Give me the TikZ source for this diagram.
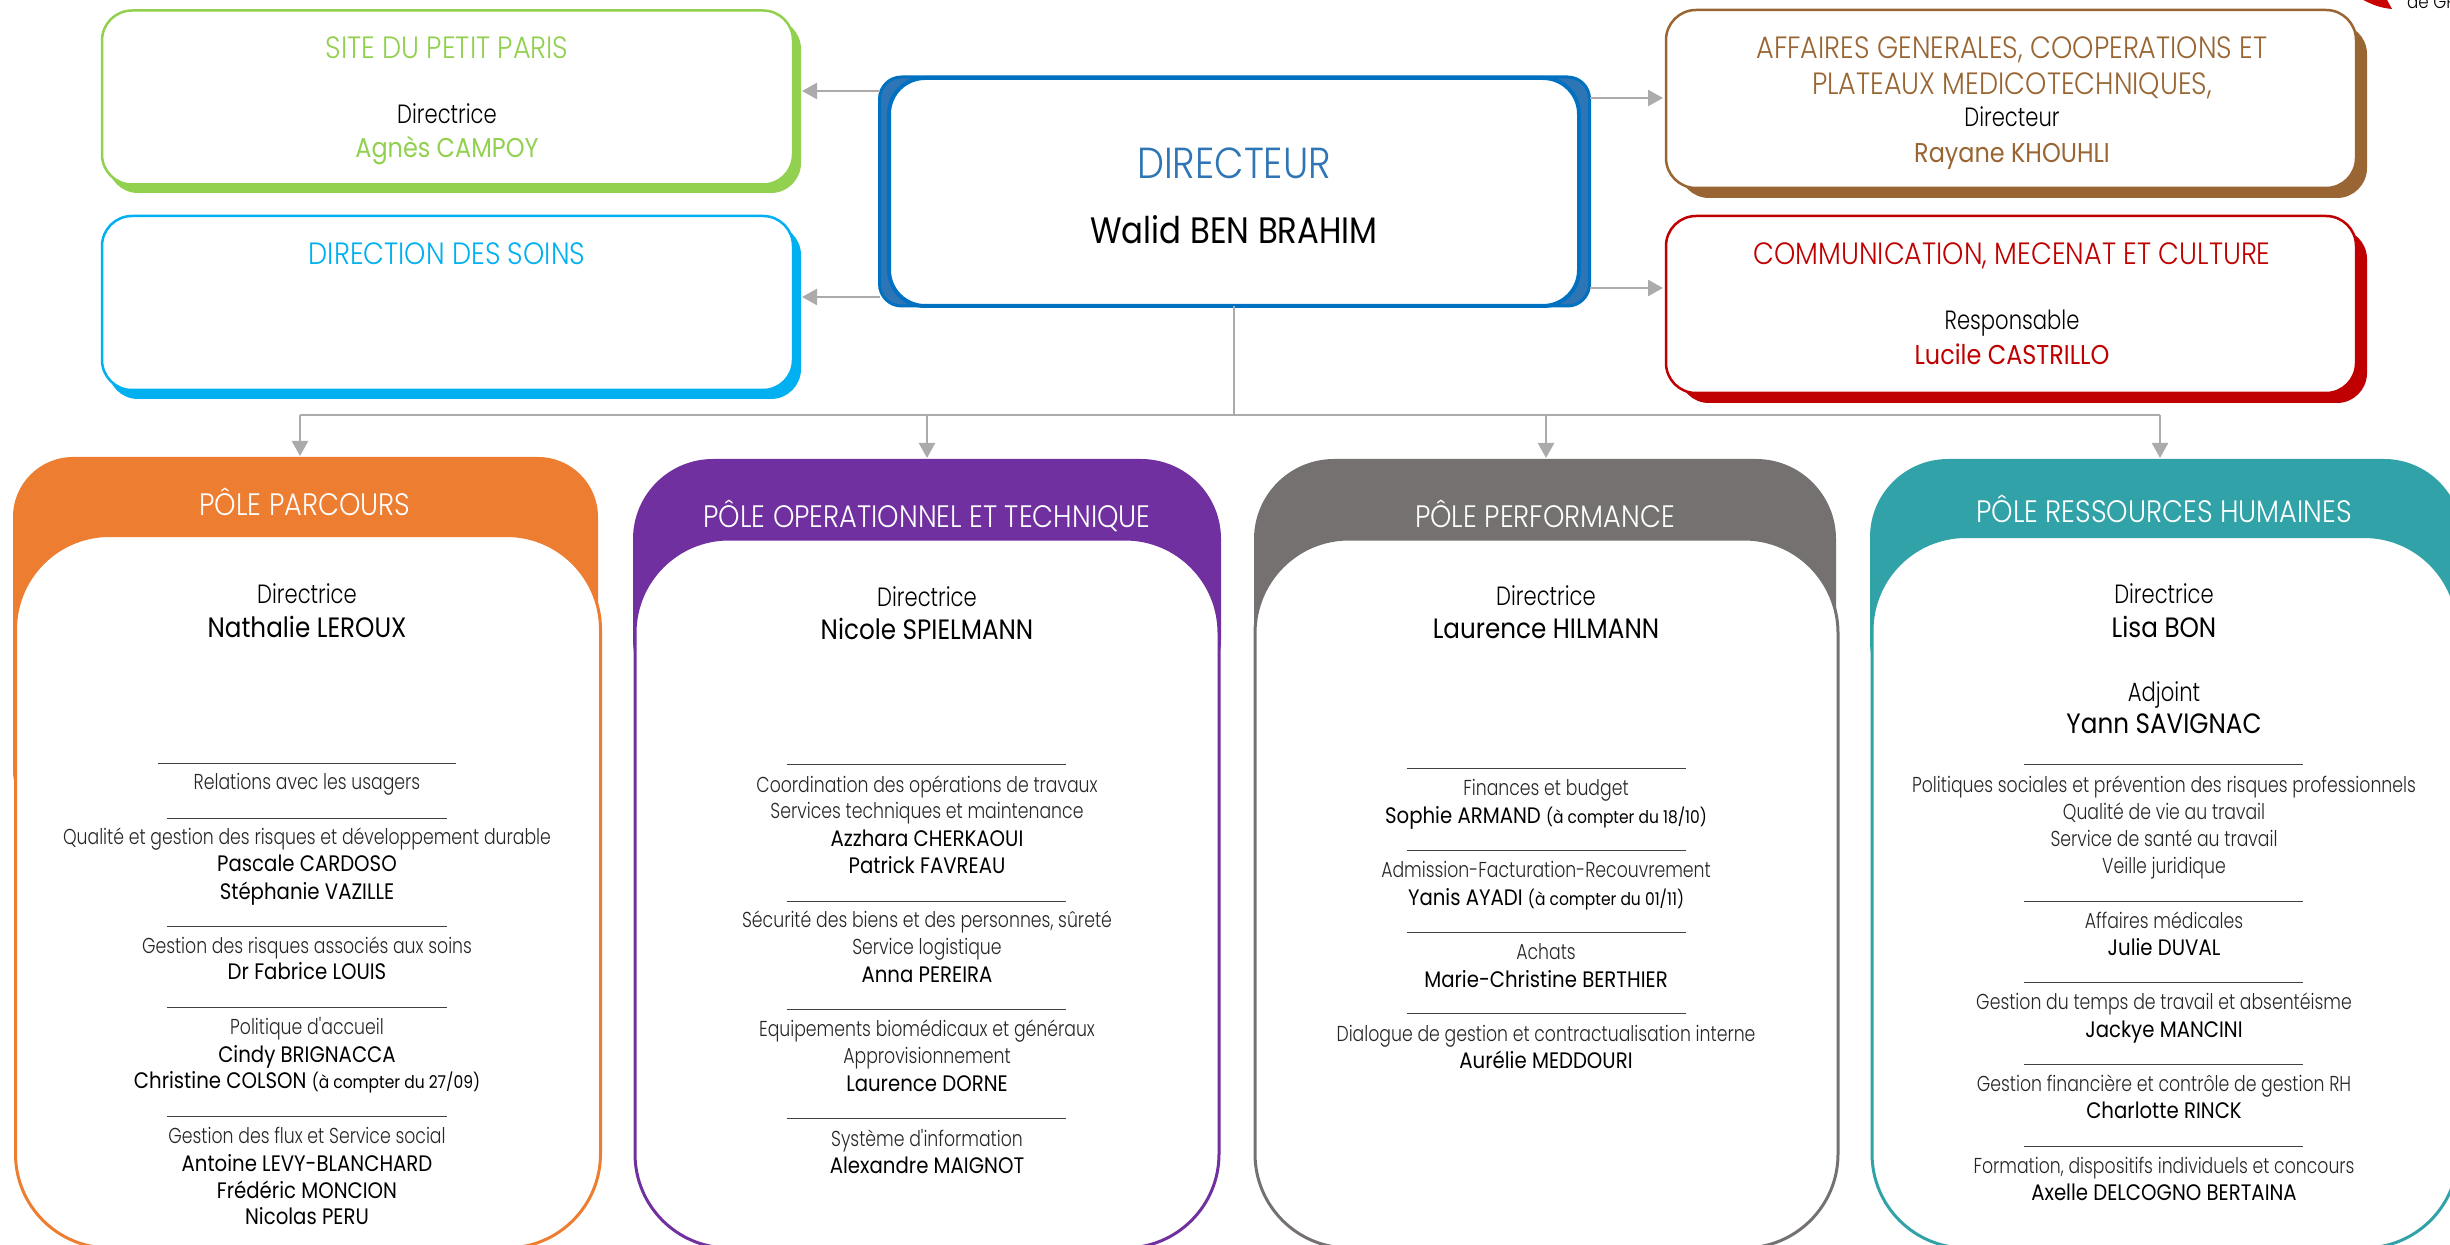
\documentclass[tikz,border=0pt]{standalone}
\usepackage{fontspec}
\setmainfont{Poppins}[FakeStretch=0.88]
\newfontfamily\lightf{Poppins Light}[FakeStretch=0.88]
\newfontfamily\thinf{Poppins Light}[FakeStretch=0.8]
\definecolor{cgreen}{HTML}{92D050}
\definecolor{csky}{HTML}{00B0F0}
\definecolor{cblue}{HTML}{0070C0}
\definecolor{cblued}{HTML}{2E75B6}
\definecolor{cbrown}{HTML}{996633}
\definecolor{cred}{HTML}{C00000}
\definecolor{corange}{HTML}{ED7D31}
\definecolor{cpurple}{HTML}{7030A0}
\definecolor{cgray}{HTML}{767171}
\definecolor{cteal}{HTML}{31A3A8}
\definecolor{carrow}{HTML}{ABABAB}
\usetikzlibrary{arrows.meta}
\tikzset{
  box/.style={rectangle,inner sep=0pt,outer sep=0pt},
  shadowbox/.style={box,fill=#1,rounded corners=15pt},
  frontbox/.style={box,draw=#1,fill=white,line width=1.25pt,rounded corners=15pt},
  headbox/.style={box,fill=#1},
  bodybox/.style={box,draw=#1,fill=white,line width=1.5pt,rounded corners=47pt},
  txt/.style={inner sep=0pt,outer sep=0pt,anchor=base,align=center},
  titletxt/.style={txt,font=\lightf\fontsize{15.4}{15}\selectfont,text=#1},
  roletxt/.style={txt,font=\thinf\fontsize{13.2}{13}\selectfont,text=black},
  colname/.style={txt,font=\fontsize{13.6}{14}\selectfont,text=#1},
  headtxt/.style={txt,font=\lightf\fontsize{15.5}{15}\selectfont,text=white},
  chief/.style={txt,font=\fontsize{14}{14}\selectfont,text=black},
  desc/.style={txt,font=\thinf\fontsize{10.8}{11}\selectfont,text=black!85},
  person/.style={txt,font=\fontsize{11.2}{11}\selectfont,text=black},
  sep/.style={draw=black!75,line width=0.45pt},
  arr/.style={draw=carrow,line width=1.2pt,-{Triangle[length=7.5pt,width=8pt]}},
  conn/.style={draw=carrow,line width=1.1pt},
}
\newcommand\datenote[1]{{\fontsize{8.8}{8}\selectfont #1}}
\begin{document}
\begin{tikzpicture}[x=0.5pt,y=-0.5pt]
\useasboundingbox (0,0) rectangle (2450,1245);
\clip (0,0) rectangle (2450,1245);
% logo fragment
\fill[cred!85!red] (2360,-2) -- (2386,-2) -- (2392,9) .. controls (2380,8) and (2370,4) .. (2360,-2);
\node[txt,anchor=base west,font=\lightf\fontsize{9.5}{9}\selectfont] (logotxt) at (2407,9) {de GR};
% top-left boxes
\node[shadowbox=cgreen,minimum width=346.5pt,minimum height=87pt] (sitebk) at (454.5,106) {};
\node[frontbox=cgreen,minimum width=345.5pt,minimum height=87pt] (site) at (447.5,97.5) {};
\node[shadowbox=csky,minimum width=346.5pt,minimum height=87pt] (soinsbk) at (454.5,312) {};
\node[frontbox=csky,minimum width=345.5pt,minimum height=87pt] (soins) at (447.5,303) {};
% top-right boxes
\node[shadowbox=cbrown,minimum width=344pt,minimum height=87pt] (affbk) at (2023,111) {};
\node[frontbox=cbrown,minimum width=345pt,minimum height=89pt] (aff) at (2011,99) {};
\node[shadowbox=cred,minimum width=344pt,minimum height=87pt] (combk) at (2023,316) {};
\node[frontbox=cred,minimum width=345pt,minimum height=88.5pt] (com) at (2011,304.5) {};
% director
\node[box,fill=cblued,draw=cblue,line width=1.5pt,rounded corners=11pt,minimum width=355pt,minimum height=114.5pt] (dirbk) at (1234.5,191.5) {};
\node[box,draw=cblue,fill=white,line width=2pt,rounded corners=18pt,minimum width=345pt,minimum height=114pt] (dir) at (1234,192) {};
% poles
\node[headbox=corange,rounded corners=30pt,minimum width=292.5pt,minimum height=186.5pt] (h1) at (305.5,643.5) {};
\node[bodybox=corange,minimum width=292.5pt,minimum height=356.25pt] (b1) at (308,891.75) {};
\node[headbox=cpurple,rounded corners=40pt,minimum width=294pt,minimum height=130pt] (h2) at (927,589) {};
\node[bodybox=cpurple,minimum width=292pt,minimum height=354.5pt] (b2) at (927,893.5) {};
\node[headbox=cgray,rounded corners=40pt,minimum width=291pt,minimum height=130pt] (h3) at (1545,589) {};
\node[bodybox=cgray,minimum width=291.5pt,minimum height=354.5pt] (b3) at (1546.5,893.5) {};
\node[headbox=cteal,rounded corners=39pt,minimum width=296pt,minimum height=130pt] (h4) at (2166,589) {};
\node[bodybox=cteal,minimum width=293pt,minimum height=355.75pt] (b4) at (2165,892.25) {};
% connectors
\coordinate (pSite) at (802,91);
\coordinate (pSoins) at (802,297);
\coordinate (pAff) at (1663,98);
\coordinate (pCom) at (1663,288);
\coordinate (bus) at (1234,415);
\coordinate (bL) at (300,415);
\coordinate (b2t) at (927,415);
\coordinate (b3t) at (1546,415);
\coordinate (b4t) at (2160,415);
\coordinate (t1) at (300,456);
\coordinate (t2) at (927,458);
\coordinate (t3) at (1546,458);
\coordinate (t4) at (2160,458);
\draw[arr] (dirbk.west |- pSite) -- (pSite);
\draw[arr] (dirbk.west |- pSoins) -- (pSoins);
\draw[arr] (dirbk.east |- pAff) -- (pAff);
\draw[arr] (dirbk.east |- pCom) -- (pCom);
\draw[conn] (dir.south) -- (bus);
\draw[conn] (bL) -- (b4t);
\draw[arr] (bL) -- (t1);
\draw[arr] (b2t) -- (t2);
\draw[arr] (b3t) -- (t3);
\draw[arr] (b4t) -- (t4);
% top texts
\node[titletxt=cgreen] (t_site) at (447,59) {SITE DU PETIT PARIS};
\node[roletxt] (t_sited) at (447,124) {Directrice};
\node[colname=cgreen] (t_sitep) at (447,158) {Agnès CAMPOY};
\node[titletxt=csky] (t_soins) at (447,265) {DIRECTION DES SOINS};
\node[titletxt=cbrown] (t_aff1) at (2012,59) {AFFAIRES GENERALES, COOPERATIONS ET};
\node[titletxt=cbrown] (t_aff2) at (2012,95) {PLATEAUX MEDICOTECHNIQUES,};
\node[roletxt] (t_affd) at (2012,127) {Directeur};
\node[colname=cbrown] (t_affp) at (2012,163) {Rayane KHOUHLI};
\node[titletxt=cred] (t_com) at (2012,265) {COMMUNICATION, MECENAT ET CULTURE};
\node[roletxt] (t_comd) at (2012,330) {Responsable};
\node[colname=cred] (t_comp) at (2012,365) {Lucile CASTRILLO};
\node[txt,font=\lightf\fontsize{21.7}{22}\selectfont,text=cblued] (t_dir) at (1234,179) {DIRECTEUR};
\node[txt,font=\fontsize{18.4}{18}\selectfont,text=black] (t_wal) at (1234,244) {Walid BEN BRAHIM};
% pole 1
\node[headtxt] (p1h) at (305,516) {PÔLE PARCOURS};
\node[roletxt] (p1a) at (307,603) {Directrice};
\node[chief] (p1b) at (307,637) {Nathalie LEROUX};
\draw[sep] (158,763) -- (456,763);
\node[desc] (p1c) at (307,789) {Relations avec les usagers};
\draw[sep] (167,818) -- (447,818);
\node[desc] (p1d) at (307,844) {Qualité et gestion des risques et développement durable};
\node[person] (p1e) at (307,871) {Pascale CARDOSO};
\node[person] (p1f) at (307,899) {Stéphanie VAZILLE};
\draw[sep] (167,926) -- (447,926);
\node[desc] (p1g) at (307,953) {Gestion des risques associés aux soins};
\node[person] (p1h2) at (307,979.5) {Dr Fabrice LOUIS};
\draw[sep] (167,1007) -- (447,1007);
\node[desc] (p1i) at (307,1034) {Politique d'accueil};
\node[person] (p1j) at (307,1062) {Cindy BRIGNACCA};
\node[person] (p1k) at (307,1088) {Christine COLSON \datenote{(à compter du 27/09)}};
\draw[sep] (167,1116) -- (447,1116);
\node[desc] (p1l) at (307,1143) {Gestion des flux et Service social};
\node[person] (p1m) at (307,1171) {Antoine LEVY-BLANCHARD};
\node[person] (p1n) at (307,1198) {Frédéric MONCION};
\node[person] (p1o) at (307,1224.5) {Nicolas PERU};
% pole 2
\node[headtxt] (p2h) at (927,527) {PÔLE OPERATIONNEL ET TECHNIQUE};
\node[roletxt] (p2a) at (927,606) {Directrice};
\node[chief] (p2b) at (927,639) {Nicole SPIELMANN};
\draw[sep] (787,764) -- (1066,764);
\node[desc] (p2c) at (927,792) {Coordination des opérations de travaux};
\node[desc] (p2d) at (927,818.5) {Services techniques et maintenance};
\node[person] (p2e) at (927,846) {Azzhara CHERKAOUI};
\node[person] (p2f) at (927,873) {Patrick FAVREAU};
\draw[sep] (787,901) -- (1066,901);
\node[desc] (p2g) at (927,927) {Sécurité des biens et des personnes, sûreté};
\node[desc] (p2h2) at (927,954) {Service logistique};
\node[person] (p2i) at (927,982) {Anna PEREIRA};
\draw[sep] (787,1009) -- (1066,1009);
\node[desc] (p2j) at (927,1036) {Equipements biomédicaux et généraux};
\node[desc] (p2k) at (927,1063) {Approvisionnement};
\node[person] (p2l) at (927,1091) {Laurence DORNE};
\draw[sep] (787,1118) -- (1066,1118);
\node[desc] (p2m) at (927,1146) {Système d'information};
\node[person] (p2n) at (927,1173) {Alexandre MAIGNOT};
% pole 3
\node[headtxt] (p3h) at (1545,527) {PÔLE PERFORMANCE};
\node[roletxt] (p3a) at (1546,605) {Directrice};
\node[chief] (p3b) at (1546,638) {Laurence HILMANN};
\draw[sep] (1407,768) -- (1686,768);
\node[desc] (p3c) at (1546,795) {Finances et budget};
\node[person] (p3d) at (1546,823) {Sophie ARMAND \datenote{(à compter du 18/10)}};
\draw[sep] (1407,850) -- (1686,850);
\node[desc] (p3e) at (1546,877) {Admission-Facturation-Recouvrement};
\node[person] (p3f) at (1546,905) {Yanis AYADI \datenote{(à compter du 01/11)}};
\draw[sep] (1407,932) -- (1686,932);
\node[desc] (p3g) at (1546,959) {Achats};
\node[person] (p3h2) at (1546,987) {Marie-Christine BERTHIER};
\draw[sep] (1407,1013) -- (1686,1013);
\node[desc] (p3i) at (1546,1041) {Dialogue de gestion et contractualisation interne};
\node[person] (p3j) at (1546,1068) {Aurélie MEDDOURI};
% pole 4
\node[headtxt] (p4h) at (2164,523) {PÔLE RESSOURCES HUMAINES};
\node[roletxt] (p4a) at (2164,603) {Directrice};
\node[chief] (p4b) at (2164,637) {Lisa BON};
\node[roletxt] (p4c) at (2164,701) {Adjoint};
\node[chief] (p4d) at (2164,733) {Yann SAVIGNAC};
\draw[sep] (2024,764) -- (2303,764);
\node[desc] (p4e) at (2164,792) {Politiques sociales et prévention des risques professionnels};
\node[desc] (p4f) at (2164,819) {Qualité de vie au travail};
\node[desc] (p4g) at (2164,846) {Service de santé au travail};
\node[desc] (p4h2) at (2164,873) {Veille juridique};
\draw[sep] (2024,901) -- (2303,901);
\node[desc] (p4i) at (2164,928) {Affaires médicales};
\node[person] (p4j) at (2164,955) {Julie DUVAL};
\draw[sep] (2024,982) -- (2303,982);
\node[desc] (p4k) at (2164,1009) {Gestion du temps de travail et absentéisme};
\node[person] (p4l) at (2164,1037) {Jackye MANCINI};
\draw[sep] (2024,1064) -- (2303,1064);
\node[desc] (p4m) at (2164,1091) {Gestion financière et contrôle de gestion RH};
\node[person] (p4n) at (2164,1118.5) {Charlotte RINCK};
\draw[sep] (2024,1146) -- (2303,1146);
\node[desc] (p4o) at (2164,1173) {Formation, dispositifs individuels et concours};
\node[person] (p4p) at (2164,1200) {Axelle DELCOGNO BERTAINA};
\end{tikzpicture}
\end{document}
